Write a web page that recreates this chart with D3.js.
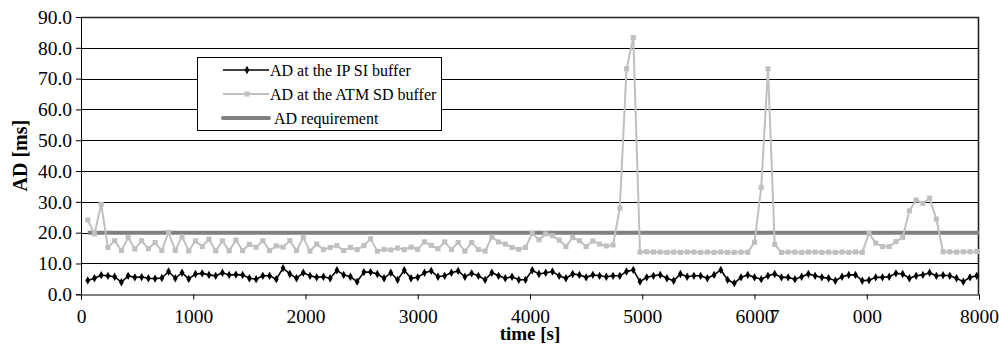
<!DOCTYPE html>
<html>
<head>
<meta charset="utf-8">
<script src="https://cdn.jsdelivr.net/npm/d3@7"></script>
<style>
  body { margin: 0; background: #fff; }
  svg text { font-family: "Liberation Serif", "DejaVu Serif", serif !important; }
</style>
</head>
<body>
<script>
const width = 999
const height = 345
const margin = { top: 17, right: 20, bottom: 51, left: 81 }
const serif = '"Liberation Serif", "DejaVu Serif", serif'

// sample times (s), one every 60 s
const times = d3.range(60, 8000, 60)

const ipSi = [
  4.5, 5.2, 6.2, 6.0, 5.7, 3.9, 6.0, 5.5, 5.6, 5.2, 5.1, 5.3, 7.4, 5.2, 7.0, 5.0, 6.6, 6.8, 6.3, 6.0,
  7.0, 6.3, 6.4, 6.3, 5.2, 4.9, 6.0, 6.0, 4.9, 8.5, 6.6, 5.2, 7.0, 6.0, 5.5,
  5.7, 5.2, 7.8, 6.3, 5.7, 4.1, 7.2, 7.2, 6.6, 5.2, 7.0, 4.7, 7.8, 5.2, 5.5, 7.0, 7.6, 5.7, 6.0, 7.0,
  7.6, 5.7, 6.8, 6.0, 4.7, 7.0, 6.0, 5.2, 5.7, 4.7, 4.7, 7.8, 6.6, 7.0,
  7.4, 6.0, 5.2, 6.6, 6.3, 5.5, 6.3, 6.0, 5.7, 6.0, 6.0, 7.4, 7.9, 4.1, 5.5, 6.0, 6.3, 5.2, 4.4, 6.6,
  5.7, 6.0, 6.0, 5.2, 6.3, 7.9, 4.7, 3.6, 5.5, 6.3, 5.5, 4.9, 6.0, 6.6,
  5.5, 5.5, 4.9, 5.7, 6.6, 6.0, 5.5, 5.2, 4.4, 5.7, 6.3, 6.3, 4.4, 4.6, 5.5, 5.5, 5.7, 6.8, 6.6, 5.2,
  6.0, 6.3, 7.0, 6.0, 6.2, 6.0, 5.2, 4.1, 5.5, 6.0
]

const atmSd = [
  24.1, 19.6, 29.2, 15.2, 17.4, 14.2, 18.4, 14.7, 17.4, 14.8, 16.8, 14.2, 20.1, 14.2, 18.7, 14.1, 17.3, 15.5,
  17.9, 14.1, 17.3, 14.1, 17.6, 14.2, 16.2, 15.3, 17.4, 14.2, 15.7, 15.3, 17.4, 14.2, 18.4, 14.0, 16.3,
  14.5, 15.2, 15.8, 14.2, 15.2, 14.5, 15.8, 18.0, 14.0, 14.6, 14.4, 15.0, 14.5, 15.3, 14.6, 17.0, 15.9,
  14.8, 17.0, 14.5, 16.8, 14.0, 16.8, 14.5, 14.0, 18.6, 17.0, 16.3, 15.2, 14.6, 15.2, 19.8, 17.7, 19.6,
  19.0, 17.6, 15.5, 18.4, 17.4, 15.5, 17.3, 16.3, 15.7, 16.0, 28.0, 73.2, 83.3, 13.7,
  13.8, 13.7, 13.7, 13.6, 13.7, 13.6, 13.7, 13.7, 13.6, 13.7, 13.6, 13.7, 13.6, 13.6, 13.7, 13.6,
  16.9, 34.7, 73.2, 16.2,
  13.6, 13.7, 13.7, 13.6, 13.7, 13.7, 13.6, 13.7, 13.6, 13.7, 13.6, 13.7, 13.6,
  19.8, 16.6, 15.5, 15.5, 17.1, 18.5, 27.1, 30.6, 29.5, 31.2, 24.4,
  13.8, 13.8, 13.7, 13.8, 13.8, 13.9
]

const requirement = 20

const xTicks = [0, 1000, 2000, 3000, 4000, 5000, 6000, 7000, 8000]
// the 7000 label lost its leading "7" in the original picture
const xTickLabels = ['0', '1000', '2000', '3000', '4000', '5000', '6000', '000', '8000']
const yTicks = [0, 10, 20, 30, 40, 50, 60, 70, 80, 90]

const legendLabels = ['AD at the IP SI buffer', 'AD at the ATM SD buffer', 'AD requirement']

const x = d3.scaleLinear().domain([0, 8000]).range([margin.left, width - margin.right])
const y = d3.scaleLinear().domain([0, 90]).range([height - margin.bottom + 0.3, margin.top])

const svg = d3.select('body').append('svg')
  .attr('width', width)
  .attr('height', height)
  .attr('font-family', serif)

// horizontal gridlines
svg.append('g')
  .selectAll('line')
  .data(yTicks.filter(d => d > 0 && d < 90))
  .join('line')
  .attr('x1', x(0))
  .attr('x2', x(8000))
  .attr('y1', d => Math.round(y(d)) + 0.5)
  .attr('y2', d => Math.round(y(d)) + 0.5)
  .attr('stroke', '#000')
  .attr('stroke-width', 1)

// plot border (top + right)
svg.append('path')
  .attr('d', `M${x(0)},${Math.round(y(90)) + 0.5}H${x(8000) - 0.5}V${y(0)}`)
  .attr('fill', 'none')
  .attr('stroke', '#222')
  .attr('stroke-width', 1.6)

// axes
const yAxis = svg.append('g')
  .attr('transform', `translate(${x(0)},0)`)
  .call(d3.axisLeft(y).tickValues(yTicks).tickSize(5).tickFormat(d3.format('.1f')))
  .attr('font-family', serif)
yAxis.select('.domain').attr('stroke', '#000')
yAxis.selectAll('.tick line').attr('stroke', '#000')
yAxis.selectAll('.tick text')
  .attr('x', -9)
  .attr('font-size', 19.5)
  .attr('fill', '#000')

const xAxis = svg.append('g')
  .attr('transform', `translate(0,${Math.round(y(0)) + 0.5})`)
  .call(d3.axisBottom(x).tickValues(xTicks).tickSize(5).tickFormat((d, i) => xTickLabels[i]))
  .attr('font-family', serif)
xAxis.select('.domain').attr('stroke', '#000')
xAxis.selectAll('.tick line').attr('stroke', '#000')
xAxis.selectAll('.tick text')
  .attr('y', 15)
  .attr('font-size', 19.5)
  .attr('fill', '#000')

// stray "7" overlapping the 6000 label, as in the original
svg.append('text')
  .attr('x', x(6000) + 25)
  .attr('y', Math.round(y(0)) + 15.5)
  .attr('dy', '0.71em')
  .attr('text-anchor', 'end')
  .attr('font-size', 19.5)
  .text('7')

// axis titles
svg.append('text')
  .attr('x', 530)
  .attr('y', 340)
  .attr('text-anchor', 'middle')
  .attr('font-size', 19)
  .attr('font-weight', 'bold')
  .text('time [s]')

svg.append('text')
  .attr('transform', `translate(27,${(y(0) + y(90)) / 2}) rotate(-90)`)
  .attr('text-anchor', 'middle')
  .attr('font-size', 20)
  .attr('font-weight', 'bold')
  .text('AD [ms]')

// requirement line
svg.append('line')
  .attr('x1', x(times[0]))
  .attr('x2', x(8000))
  .attr('y1', y(requirement))
  .attr('y2', y(requirement))
  .attr('stroke', '#808080')
  .attr('stroke-width', 4)

const line = d3.line()
  .x((d, i) => x(times[i]))
  .y(d => y(d))

// ATM SD buffer series
svg.append('path')
  .datum(atmSd)
  .attr('d', line)
  .attr('fill', 'none')
  .attr('stroke', '#c0c0c0')
  .attr('stroke-width', 2)

svg.append('g')
  .selectAll('path')
  .data(atmSd)
  .join('path')
  .attr('transform', (d, i) => `translate(${x(times[i])},${y(d)})`)
  .attr('d', d3.symbol(d3.symbolSquare, 26))
  .attr('fill', '#c0c0c0')

// IP SI buffer series
svg.append('path')
  .datum(ipSi)
  .attr('d', line)
  .attr('fill', 'none')
  .attr('stroke', '#000')
  .attr('stroke-width', 1.6)

svg.append('g')
  .selectAll('path')
  .data(ipSi)
  .join('path')
  .attr('transform', (d, i) => `translate(${x(times[i])},${y(d)})`)
  .attr('d', d3.symbol(d3.symbolDiamond, 20))
  .attr('fill', '#000')

// legend
const legend = svg.append('g')
legend.append('rect')
  .attr('x', 197.5)
  .attr('y', 57.5)
  .attr('width', 244)
  .attr('height', 73)
  .attr('fill', '#fff')
  .attr('stroke', '#000')

const rows = [
  { y: 70, color: '#000', width: 1.6, symbol: d3.symbolDiamond, tx: 270 },
  { y: 94, color: '#c0c0c0', width: 2, symbol: d3.symbolSquare, tx: 270 },
  { y: 118, color: '#808080', width: 4, symbol: null, tx: 274 }
]

rows.forEach((r, i) => {
  legend.append('line')
    .attr('x1', 223)
    .attr('x2', 269)
    .attr('y1', r.y)
    .attr('y2', r.y)
    .attr('stroke', r.color)
    .attr('stroke-width', r.width)
    .attr('stroke-linecap', r.symbol ? 'butt' : 'round')
  if (r.symbol) {
    legend.append('path')
      .attr('transform', `translate(247,${r.y})`)
      .attr('d', d3.symbol(r.symbol, r.symbol === d3.symbolDiamond ? 20 : 26))
      .attr('fill', r.color)
  }
  legend.append('text')
    .attr('x', r.tx)
    .attr('y', r.y + 6)
    .attr('font-size', 16)
    .text(legendLabels[i])
})
</script>
</body>
</html>
